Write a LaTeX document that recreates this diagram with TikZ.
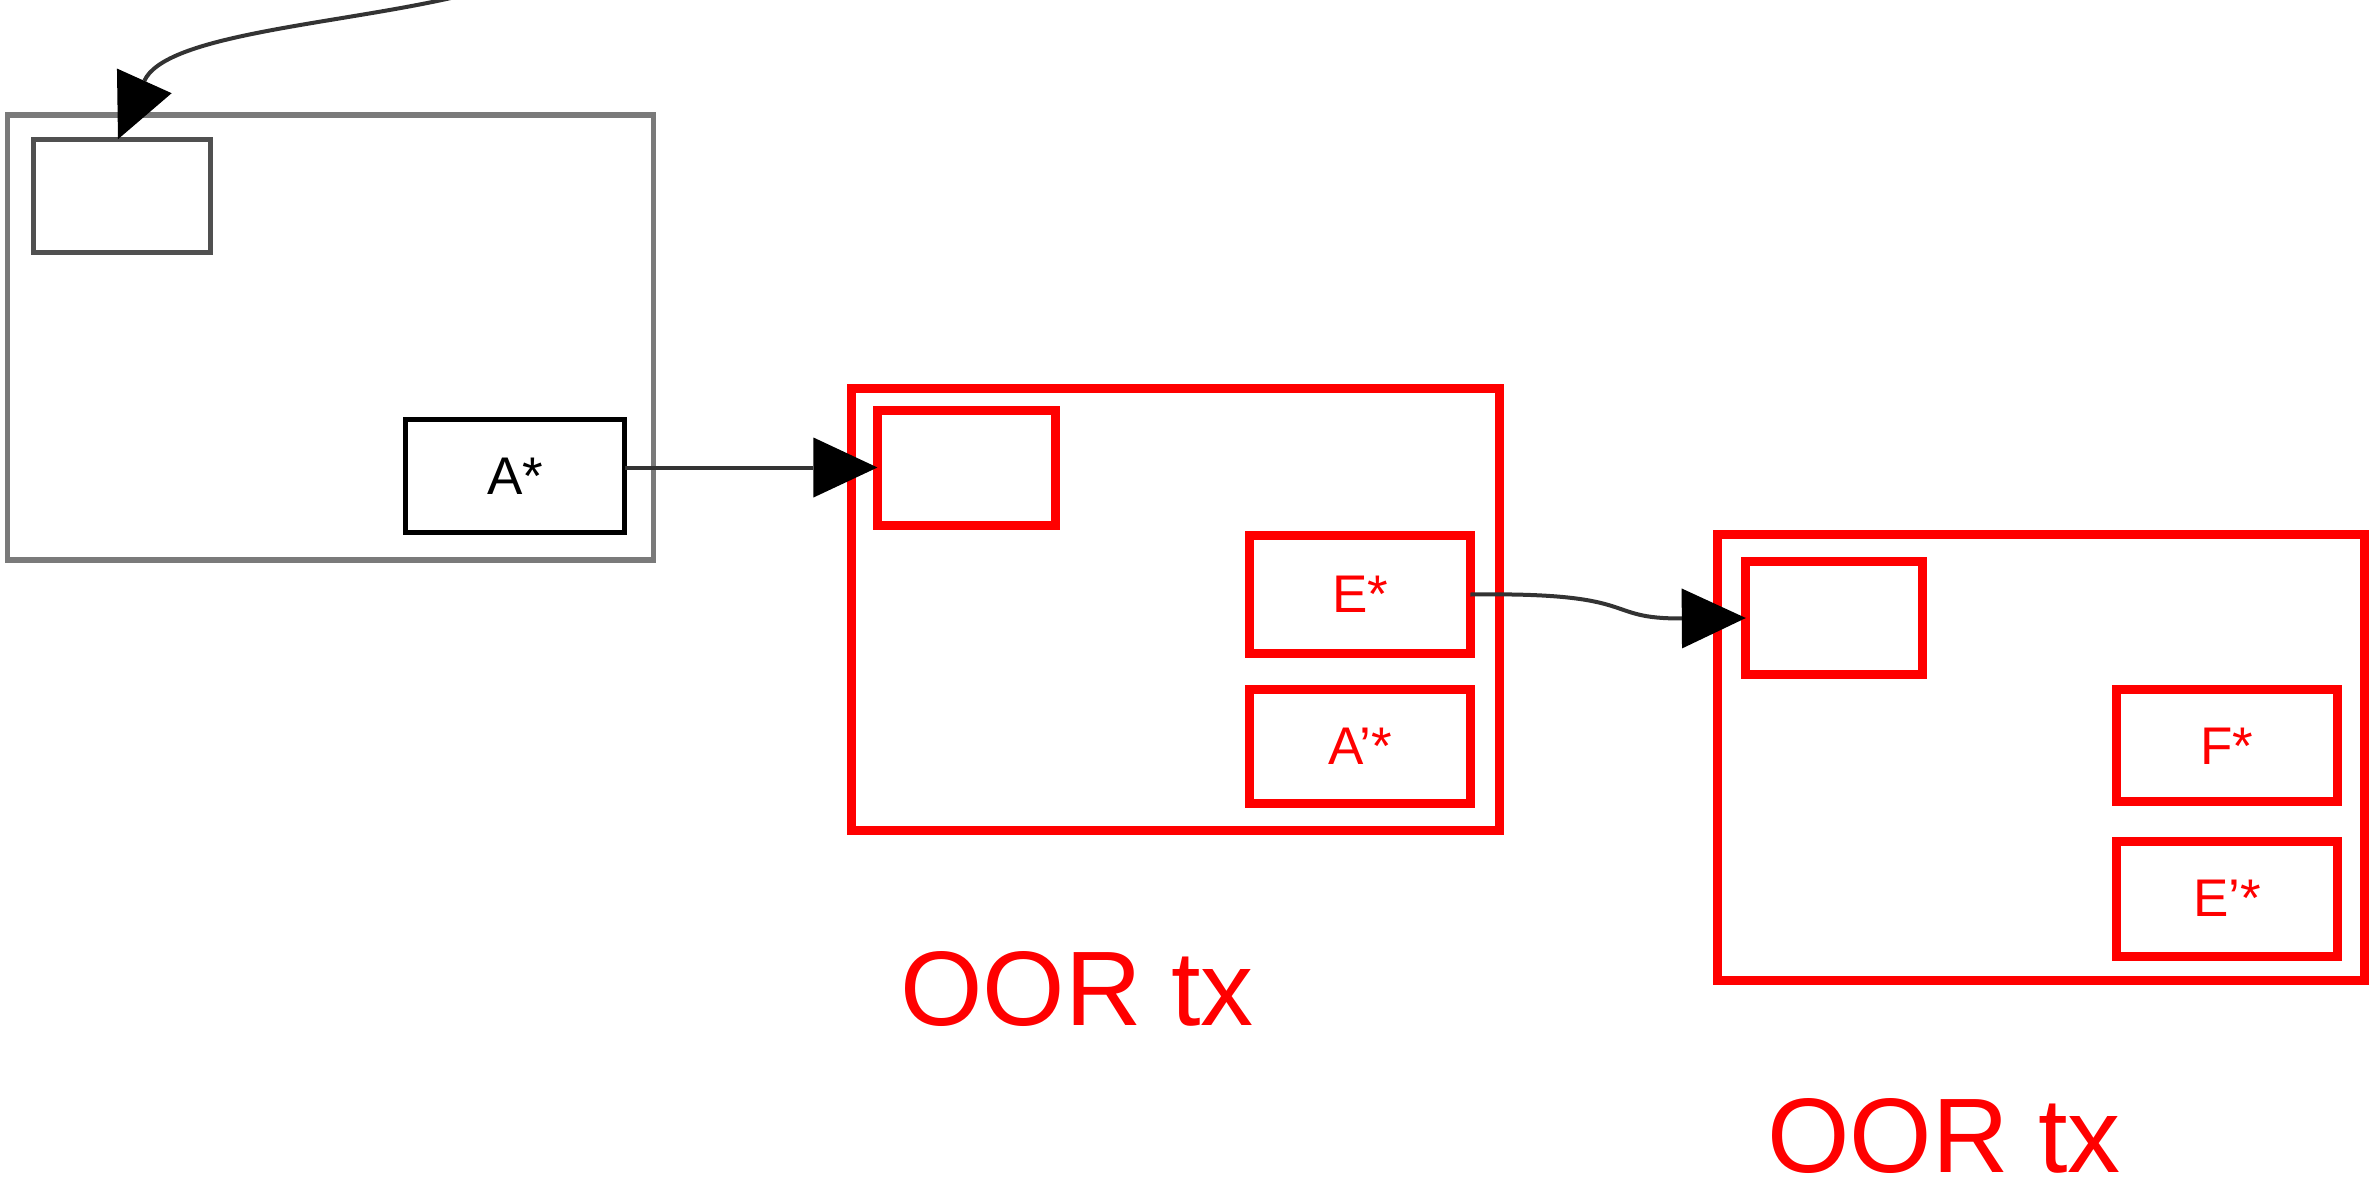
\documentclass[tikz,border=0pt]{standalone}
\usepackage{fontspec}
\setmainfont{Liberation Sans}
\usetikzlibrary{arrows.meta}
\definecolor{boxgray}{HTML}{7A7A7A}
\definecolor{innergray}{HTML}{505050}
\definecolor{linegray}{HTML}{333333}
\definecolor{pred}{HTML}{FF0000}
\tikzset{
  bx/.style={draw, rectangle, inner sep=0pt, outer sep=0pt},
  outergray/.style={bx, draw=boxgray, line width=5.5pt},
  innerg/.style={bx, draw=innergray, line width=5pt},
  blackbox/.style={bx, draw=black, line width=5pt, font=\fontsize{53}{60}\selectfont},
  redouter/.style={bx, draw=pred, line width=9pt},
  redbox/.style={bx, draw=pred, line width=9pt, text=pred, font=\fontsize{53}{60}\selectfont},
  conn/.style={draw=linegray, line width=4pt, -{Triangle[length=64pt,width=60pt,fill=black,line width=0pt]}},
  lbl/.style={text=pred, font=\fontsize{106}{115}\selectfont, inner sep=0pt, anchor=base}
}
\begin{document}
\begin{tikzpicture}[x=1pt,y=-1pt]
\useasboundingbox (0,0) rectangle (2372,1181);
% first transaction
\node[outergray, minimum width=646pt, minimum height=444.7pt] (box1) at (330.5,337.4) {};
\node[innerg, minimum width=177pt, minimum height=113.4pt] (in1) at (121.8,195.9) {};
\node[blackbox, minimum width=219.4pt, minimum height=113.5pt] (astar) at (515.1,475.8) {A*};
% second transaction
\node[redouter, minimum width=647.5pt, minimum height=441.7pt] (box2) at (1175.5,609.7) {};
\node[redbox, minimum width=178.5pt, minimum height=115pt] (in2) at (966.7,467.5) {};
\node[redbox, minimum width=220.8pt, minimum height=118pt] (estar) at (1360,594.5) {E*};
\node[redbox, minimum width=220.8pt, minimum height=113.5pt] (aprime) at (1360,746.6) {A'*};
% third transaction
\node[redouter, minimum width=647.5pt, minimum height=446.3pt] (box3) at (2040.8,757.2) {};
\node[redbox, minimum width=177pt, minimum height=113.4pt] (in3) at (1834.3,618) {};
\node[redbox, minimum width=220.9pt, minimum height=112pt] (fstar) at (2226.9,745.8) {F*};
\node[redbox, minimum width=220.9pt, minimum height=115pt] (eprime) at (2226.9,898.6) {E'*};
% labels
\node[lbl] (l1) at (1077,1025.7) {OOR tx};
\node[lbl] (l2) at (1944,1172.4) {OOR tx};
% connectors
\coordinate (src) at (451,-2);
\draw[conn] (src) .. controls (330,25) and (165,35) .. (in1.north -| 118,0);
\draw[conn] (astar.east |- in2.west) -- (in2.west);
\draw[conn] (estar.east) .. controls (1645,592) and (1600,619) .. (in3.west);
\end{tikzpicture}
\end{document}
